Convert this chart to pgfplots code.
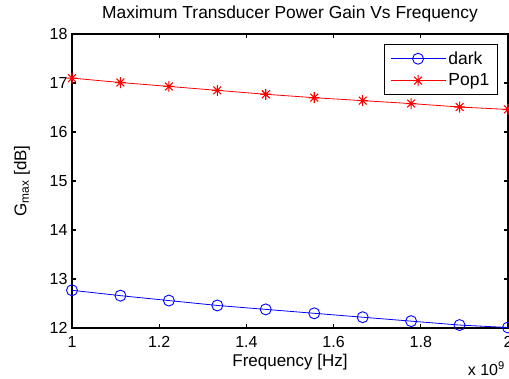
\documentclass[border=0pt]{standalone}
\usepackage{pgfplots}
\pgfplotsset{compat=1.18}
\usepackage{fontspec}
\setmainfont{Liberation Sans}
\pgfdeclareplotmark{mstar}{%
  \pgfpathmoveto{\pgfqpoint{0pt}{\pgfplotmarksize}}\pgfpathlineto{\pgfqpoint{0pt}{-\pgfplotmarksize}}%
  \pgfpathmoveto{\pgfqpoint{\pgfplotmarksize}{0pt}}\pgfpathlineto{\pgfqpoint{-\pgfplotmarksize}{0pt}}%
  \pgfpathmoveto{\pgfqpoint{0.707\pgfplotmarksize}{0.707\pgfplotmarksize}}\pgfpathlineto{\pgfqpoint{-0.707\pgfplotmarksize}{-0.707\pgfplotmarksize}}%
  \pgfpathmoveto{\pgfqpoint{0.707\pgfplotmarksize}{-0.707\pgfplotmarksize}}\pgfpathlineto{\pgfqpoint{-0.707\pgfplotmarksize}{0.707\pgfplotmarksize}}%
  \pgfusepathqstroke}
\begin{document}
\begin{tikzpicture}
\path[use as bounding box] (-72pt,-50pt) rectangle (437pt,328pt);
\begin{axis}[
  at={(0pt,0pt)}, anchor=south west,
  scale only axis, width=436pt, height=294pt,
  xmin=1, xmax=2, ymin=12, ymax=18,
  xtick={1,1.2,1.4,1.6,1.8,2},
  xticklabels={1,1.2,1.4,1.6,1.8,2},
  ytick={12,13,14,15,16,17,18},
  tick align=inside, major tick length=4pt,
  tick style={black, line width=1.3pt},
  axis line style={black, line width=1.6pt},
  /pgf/number format/assume math mode=true,
  ticklabel style={font=\fontsize{16}{18}\selectfont},
  xticklabel style={yshift=-5pt},
  yticklabel style={xshift=-1pt},
  title={Maximum Transducer Power Gain Vs Frequency},
  every axis title shift=0pt,
  title style={font=\fontsize{17.4}{19}\selectfont, at={([yshift=20pt]axis description cs:0.5,1)}, anchor=center},
  xlabel={Frequency [Hz]},
  ylabel={G\textsubscript{max} [dB]},
  label style={font=\fontsize{17}{19}\selectfont},
  xlabel style={at={([yshift=-34pt]axis description cs:0.5,0)}, anchor=center},
  ylabel style={at={([xshift=-50pt]axis description cs:0,0.5)}, anchor=center},
  clip=false,
  legend style={at={(0.977,0.966)}, anchor=north east, draw=black, line width=1.3pt,
    font=\fontsize{17.5}{19}\selectfont, row sep=4pt, inner xsep=6pt, inner ysep=5pt,
    cells={anchor=west}},
  legend image code/.code={\draw[mark repeat=2, mark phase=2] plot coordinates {(0pt,0pt) (27pt,0pt) (55pt,0pt)};},
]
\addplot[blue, line width=0.8pt, mark=o, mark size=5.5pt, mark options={line width=0.9pt}] coordinates {
(1.0000,12.77) (1.1111,12.66) (1.2222,12.56) (1.3333,12.46) (1.4444,12.38)
(1.5556,12.30) (1.6667,12.22) (1.7778,12.14) (1.8889,12.06) (2.0000,12.01)};
\addlegendentry{dark}
\addplot[red, line width=0.8pt, mark=mstar, mark size=5.5pt, mark options={line width=1.1pt}] coordinates {
(1.0000,17.10) (1.1111,17.01) (1.2222,16.93) (1.3333,16.85) (1.4444,16.77)
(1.5556,16.70) (1.6667,16.64) (1.7778,16.58) (1.8889,16.51) (2.0000,16.46)};
\addlegendentry{Pop1}
\node[anchor=south east, font=\fontsize{16}{18}\selectfont, inner sep=0pt] at ([xshift=-3pt,yshift=-48pt]rel axis cs:1,0) {x 10\textsuperscript{9}};
\end{axis}
\end{tikzpicture}
\end{document}
